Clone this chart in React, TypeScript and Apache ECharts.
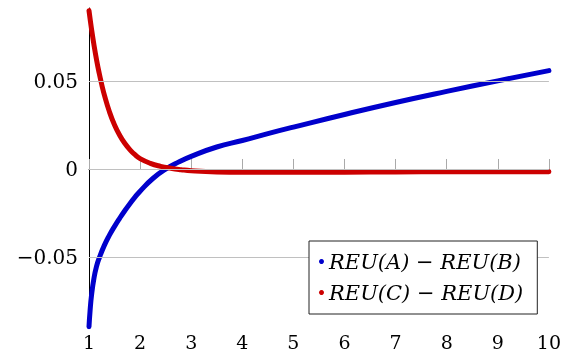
import React, { useEffect, useRef } from "react";
import * as echarts from "echarts";

const blueX = [1.0, 1.02, 1.05, 1.1, 1.15, 1.2, 1.3, 1.4, 1.5, 1.6, 1.7, 1.8, 1.9, 2.0, 2.25, 2.5, 2.75, 3.0, 3.5, 4.0, 4.5, 5.0, 6.0, 7.0, 8.0, 9.0, 10.0];
const blueY = [-0.0896, -0.081, -0.0716, -0.0616, -0.0551, -0.0506, -0.0434, -0.0376, -0.0326, -0.028, -0.0237, -0.0197, -0.016, -0.0126, -0.0054, -0.0001, 0.0039, 0.0072, 0.0125, 0.0162, 0.0201, 0.0238, 0.031, 0.0378, 0.0441, 0.0501, 0.0559];

const redX = [1.0, 1.05, 1.1, 1.15, 1.2, 1.25, 1.3, 1.4, 1.5, 1.6, 1.7, 1.8, 1.9, 2.0, 2.2, 2.4, 2.6, 2.8, 3.0, 3.5, 4.0, 5.0, 6.0, 7.0, 8.0, 9.0, 10.0];
const redY = [0.09, 0.0794, 0.07, 0.0617, 0.0544, 0.0479, 0.0421, 0.0325, 0.025, 0.0192, 0.0146, 0.011, 0.0081, 0.0059, 0.0032, 0.0015, 0.0004, -0.0004, -0.001, -0.0017, -0.0019, -0.0019, -0.0018, -0.0017, -0.0016, -0.0016, -0.0015];

const seriesNames = ["REU(A) − REU(B)", "REU(C) − REU(D)"];
const yTicks = [-0.05, 0, 0.05];
const xTicks = [1, 2, 3, 4, 5, 6, 7, 8, 9, 10];

const FONT = "'DejaVu Serif', 'Liberation Serif', serif";

export default function App() {
  const ref = useRef<HTMLDivElement>(null);
  useEffect(() => {
    if (!ref.current) return;
    const chart = echarts.init(ref.current, undefined, { renderer: "svg" });
    const fmtY = (v: number) => (v === 0 ? "0" : v < 0 ? "−" + Math.abs(v).toFixed(2) : v.toFixed(2));
    chart.setOption({
      animation: false,
      grid: { left: 89, right: 12, top: 8, bottom: 31 },
      xAxis: {
        type: "value",
        min: xTicks[0],
        max: xTicks[xTicks.length - 1],
        interval: 1,
        axisLine: { show: true, lineStyle: { color: "#222", width: 1 } },
        axisTick: { show: true, inside: true, length: 10, lineStyle: { color: "#aaa" } },
        axisLabel: { color: "#000", fontFamily: FONT, fontSize: 19, margin: 5 },
        splitLine: { show: false },
      },
      yAxis: {
        type: "value",
        min: -0.0898,
        max: 0.0915,
        axisLine: { show: true, onZero: false, lineStyle: { color: "#000", width: 1 } },
        axisTick: { show: true, inside: true, length: 10, customValues: yTicks, lineStyle: { color: "#666" } },
        axisLabel: { color: "#000", fontFamily: FONT, fontSize: 20, margin: 11, customValues: yTicks, formatter: fmtY },
        splitLine: { show: false },
      },
      legend: {
        data: seriesNames,
        orient: "vertical",
        left: 309,
        top: 241,
        icon: "circle",
        itemWidth: 5,
        itemHeight: 5,
        itemGap: 10,
        itemTextGap: 6,
        padding: [10, 14, 11, 10],
        backgroundColor: "#fff",
        borderColor: "#222",
        borderWidth: 1,
        borderRadius: 0,
        textStyle: { fontFamily: FONT, fontStyle: "italic", fontSize: 21, color: "#000" },
        z: 10,
      },
      series: [
        {
          type: "line",
          name: "grid",
          data: [],
          z: 1,
          silent: true,
          markLine: {
            silent: true,
            symbol: "none",
            label: { show: false },
            lineStyle: { color: "#c0c0c0", width: 1, type: "solid" },
            data: yTicks.map((v) => ({ yAxis: v })),
          },
        },
        {
          type: "line",
          name: seriesNames[0],
          data: blueX.map((x, i) => [x, blueY[i]]),
          smooth: 0.5,
          showSymbol: false,
          color: "#0000cc",
          lineStyle: { color: "#0000cc", width: 5, cap: "round" },
          z: 3,
        },
        {
          type: "line",
          name: seriesNames[1],
          data: redX.map((x, i) => [x, redY[i]]),
          smooth: 0.5,
          showSymbol: false,
          color: "#cc0000",
          lineStyle: { color: "#cc0000", width: 5, cap: "round" },
          z: 4,
        },
      ],
    });
    return () => chart.dispose();
  }, []);
  return <div ref={ref} style={{ position: "fixed", left: 0, top: 0, width: 564, height: 358 }} />;
}
